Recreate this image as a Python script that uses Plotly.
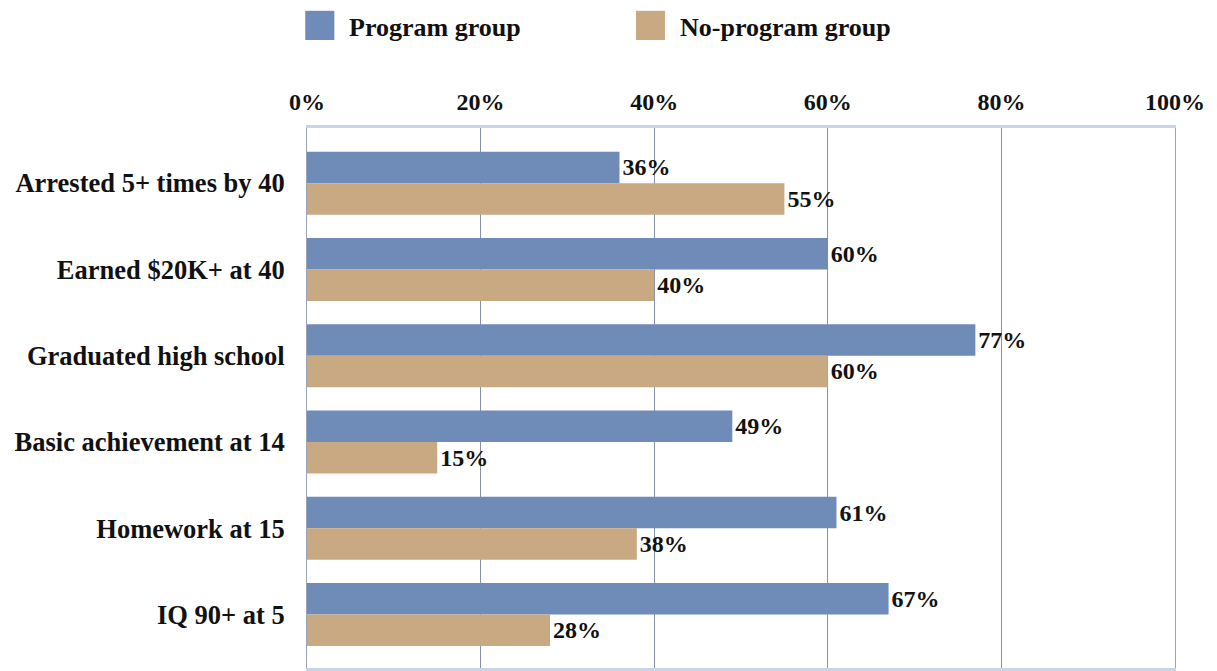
import plotly.graph_objects as go

categories = ["Arrested 5+ times by 40", "Earned $20K+ at 40", "Graduated high school",
              "Basic achievement at 14", "Homework at 15", "IQ 90+ at 5"]
program = [36, 60, 77, 49, 61, 67]
no_program = [55, 40, 60, 15, 38, 28]
series_names = ["Program group", "No-program group"]
tick_vals = [0, 20, 40, 60, 80, 100]
tick_text = ["0%", "20%", "40%", "60%", "80%", "100%"]

FONT = "Liberation Serif"
blue = "#6F8BB7"
tan = "#C8A981"

fig = go.Figure()
for name, vals, col in [(series_names[0], program, blue), (series_names[1], no_program, tan)]:
    fig.add_trace(go.Bar(
        y=categories, x=vals, orientation="h", name=name,
        marker=dict(color=col, line=dict(width=0)),
        text=[f"{v}%" for v in vals], texttemplate="%{text}",
        textposition="outside", cliponaxis=False,
        textfont=dict(family=FONT, size=24, color="#111111", weight="bold"),
        showlegend=False,
    ))

# custom legend (large square swatches)
legend_items = [(series_names[0], blue, -0.002), (series_names[1], tan, 0.379)]
for name, col, x0 in legend_items:
    fig.add_shape(type="rect", xref="paper", yref="paper",
                  x0=x0, x1=x0 + 0.0335, y0=1.163, y1=1.217,
                  fillcolor=col, line=dict(width=0))
    fig.add_annotation(xref="paper", yref="paper", x=x0 + 0.048, y=1.187,
                       xanchor="left", yanchor="middle", showarrow=False,
                       text=name,
                       font=dict(family=FONT, size=26, color="#111111", weight="bold"))

fig.update_layout(
    width=1217, height=671,
    margin=dict(l=299, r=50, t=120, b=11, autoexpand=False),
    paper_bgcolor="white", plot_bgcolor="white",
    barmode="group", bargap=0.27, bargroupgap=0,
    font=dict(family=FONT, size=24, color="#111111", weight="bold"),
    showlegend=False,
    xaxis=dict(side="top", range=[0, 100], tickvals=tick_vals, ticktext=tick_text,
               showgrid=True, gridcolor="#8592AA", gridwidth=1,
               showline=True, linecolor="#C9D5E7", linewidth=3, mirror=True,
               zeroline=False, ticks="", ticklabelstandoff=5, automargin=False,
               tickfont=dict(family=FONT, size=24, color="#111111", weight="bold")),
    yaxis=dict(range=[5.62, -0.64], showgrid=False,
               showline=True, linecolor="#9AA4B8", linewidth=1, mirror=True,
               ticks="", ticklabelstandoff=16, automargin=False,
               tickfont=dict(family=FONT, size=26.5, color="#111111", weight="bold")),
)

fig.write_html("out.html")
